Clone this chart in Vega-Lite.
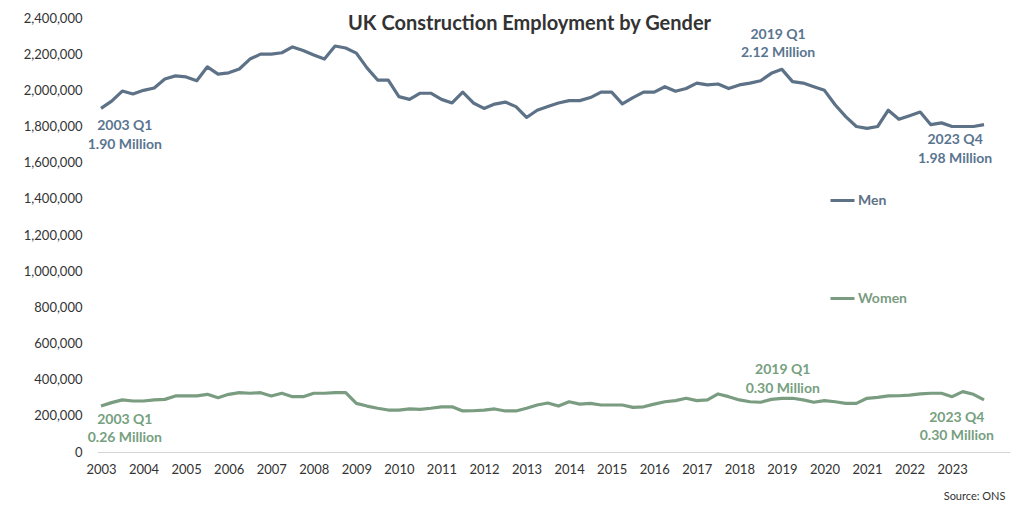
{
  "$schema": "https://vega.github.io/schema/vega-lite/v6.json",
  "width": 913,
  "height": 434,
  "autosize": "none",
  "padding": {"left": 97, "top": 18, "right": 14, "bottom": 54},
  "title": {
    "text": "UK Construction Employment by Gender",
    "fontSize": 20,
    "fontWeight": "bold",
    "color": "#333333",
    "anchor": "middle",
    "dx": -24,
    "baseline": "alphabetic",
    "offset": -38
  },
  "config": {
    "font": "Lato",
    "view": {"stroke": null}
  },
  "datasets": {
    "quarters": [
      {"t": 2003.00, "Men": 1900000, "Women": 254000},
      {"t": 2003.25, "Men": 1940000, "Women": 273000},
      {"t": 2003.50, "Men": 1996000, "Women": 288000},
      {"t": 2003.75, "Men": 1980000, "Women": 282000},
      {"t": 2004.00, "Men": 2000000, "Women": 282000},
      {"t": 2004.25, "Men": 2013000, "Women": 288000},
      {"t": 2004.50, "Men": 2063000, "Women": 291000},
      {"t": 2004.75, "Men": 2080000, "Women": 310000},
      {"t": 2005.00, "Men": 2074000, "Women": 310000},
      {"t": 2005.25, "Men": 2053000, "Women": 310000},
      {"t": 2005.50, "Men": 2130000, "Women": 319000},
      {"t": 2005.75, "Men": 2090000, "Women": 300000},
      {"t": 2006.00, "Men": 2097000, "Women": 319000},
      {"t": 2006.25, "Men": 2118000, "Women": 328000},
      {"t": 2006.50, "Men": 2173000, "Women": 325000},
      {"t": 2006.75, "Men": 2200000, "Women": 328000},
      {"t": 2007.00, "Men": 2200000, "Women": 310000},
      {"t": 2007.25, "Men": 2208000, "Women": 325000},
      {"t": 2007.50, "Men": 2240000, "Women": 306000},
      {"t": 2007.75, "Men": 2220000, "Women": 306000},
      {"t": 2008.00, "Men": 2195000, "Women": 325000},
      {"t": 2008.25, "Men": 2173000, "Women": 325000},
      {"t": 2008.50, "Men": 2245000, "Women": 328000},
      {"t": 2008.75, "Men": 2234000, "Women": 328000},
      {"t": 2009.00, "Men": 2206000, "Women": 269000},
      {"t": 2009.25, "Men": 2124000, "Women": 254000},
      {"t": 2009.50, "Men": 2057000, "Women": 242000},
      {"t": 2009.75, "Men": 2057000, "Women": 232000},
      {"t": 2010.00, "Men": 1965000, "Women": 232000},
      {"t": 2010.25, "Men": 1950000, "Women": 238000},
      {"t": 2010.50, "Men": 1984000, "Women": 236000},
      {"t": 2010.75, "Men": 1984000, "Women": 242000},
      {"t": 2011.00, "Men": 1950000, "Women": 250000},
      {"t": 2011.25, "Men": 1930000, "Women": 250000},
      {"t": 2011.50, "Men": 1990000, "Women": 227000},
      {"t": 2011.75, "Men": 1930000, "Women": 228000},
      {"t": 2012.00, "Men": 1900000, "Women": 232000},
      {"t": 2012.25, "Men": 1924000, "Women": 238000},
      {"t": 2012.50, "Men": 1935000, "Women": 227000},
      {"t": 2012.75, "Men": 1910000, "Women": 227000},
      {"t": 2013.00, "Men": 1850000, "Women": 242000},
      {"t": 2013.25, "Men": 1890000, "Women": 260000},
      {"t": 2013.50, "Men": 1910000, "Women": 271000},
      {"t": 2013.75, "Men": 1930000, "Women": 254000},
      {"t": 2014.00, "Men": 1943000, "Women": 278000},
      {"t": 2014.25, "Men": 1943000, "Women": 265000},
      {"t": 2014.50, "Men": 1960000, "Women": 269000},
      {"t": 2014.75, "Men": 1990000, "Women": 260000},
      {"t": 2015.00, "Men": 1990000, "Women": 260000},
      {"t": 2015.25, "Men": 1925000, "Women": 260000},
      {"t": 2015.50, "Men": 1960000, "Women": 247000},
      {"t": 2015.75, "Men": 1990000, "Women": 250000},
      {"t": 2016.00, "Men": 1990000, "Women": 265000},
      {"t": 2016.25, "Men": 2020000, "Women": 278000},
      {"t": 2016.50, "Men": 1995000, "Women": 284000},
      {"t": 2016.75, "Men": 2010000, "Women": 297000},
      {"t": 2017.00, "Men": 2040000, "Women": 284000},
      {"t": 2017.25, "Men": 2030000, "Women": 288000},
      {"t": 2017.50, "Men": 2035000, "Women": 321000},
      {"t": 2017.75, "Men": 2010000, "Women": 306000},
      {"t": 2018.00, "Men": 2030000, "Women": 288000},
      {"t": 2018.25, "Men": 2040000, "Women": 278000},
      {"t": 2018.50, "Men": 2053000, "Women": 275000},
      {"t": 2018.75, "Men": 2094000, "Women": 291000},
      {"t": 2019.00, "Men": 2116000, "Women": 297000},
      {"t": 2019.25, "Men": 2048000, "Women": 297000},
      {"t": 2019.50, "Men": 2040000, "Women": 288000},
      {"t": 2019.75, "Men": 2020000, "Women": 275000},
      {"t": 2020.00, "Men": 2000000, "Women": 284000},
      {"t": 2020.25, "Men": 1920000, "Women": 278000},
      {"t": 2020.50, "Men": 1855000, "Women": 269000},
      {"t": 2020.75, "Men": 1800000, "Women": 269000},
      {"t": 2021.00, "Men": 1790000, "Women": 297000},
      {"t": 2021.25, "Men": 1800000, "Women": 302000},
      {"t": 2021.50, "Men": 1890000, "Women": 310000},
      {"t": 2021.75, "Men": 1840000, "Women": 311000},
      {"t": 2022.00, "Men": 1860000, "Women": 315000},
      {"t": 2022.25, "Men": 1880000, "Women": 321000},
      {"t": 2022.50, "Men": 1810000, "Women": 325000},
      {"t": 2022.75, "Men": 1820000, "Women": 325000},
      {"t": 2023.00, "Men": 1800000, "Women": 306000},
      {"t": 2023.25, "Men": 1800000, "Women": 334000},
      {"t": 2023.50, "Men": 1800000, "Women": 319000},
      {"t": 2023.75, "Men": 1810000, "Women": 288000}
    ],
    "notes": [
      {"t": 2003.56, "employed": 1841000, "g": "Men", "label": ["2003 Q1", "1.90 Million"]},
      {"t": 2018.91, "employed": 2345000, "g": "Men", "label": ["2019 Q1", "2.12 Million"]},
      {"t": 2023.07, "employed": 1764000, "g": "Men", "label": ["2023 Q4", "1.98 Million"]},
      {"t": 2003.56, "employed": 216000, "g": "Women", "label": ["2003 Q1", "0.26 Million"]},
      {"t": 2019.02, "employed": 492000, "g": "Women", "label": ["2019 Q1", "0.30 Million"]},
      {"t": 2023.11, "employed": 227000, "g": "Women", "label": ["2023 Q4", "0.30 Million"]}
    ]
  },
  "encoding": {
    "x": {
      "field": "t",
      "type": "quantitative",
      "scale": {"domain": [2002.906, 2024.36], "nice": false, "zero": false},
      "axis": {
        "values": [2003, 2004, 2005, 2006, 2007, 2008, 2009, 2010, 2011, 2012, 2013, 2014, 2015, 2016, 2017, 2018, 2019, 2020, 2021, 2022, 2023],
        "format": "d",
        "grid": false,
        "ticks": false,
        "labelFontSize": 13,
        "labelColor": "#333333",
        "labelPadding": 11,
        "labelFlush": false,
        "domainColor": "#d4d4d4",
        "title": "Source: ONS",
        "titleFontSize": 11,
        "titleFontWeight": "normal",
        "titleColor": "#333333",
        "titleAlign": "right",
        "titleAnchor": "end",
        "titleBaseline": "alphabetic",
        "titleX": 908,
        "titleY": 47
      }
    },
    "y": {
      "field": "employed",
      "type": "quantitative",
      "scale": {"domain": [0, 2400000], "nice": false},
      "axis": {
        "values": [0, 200000, 400000, 600000, 800000, 1000000, 1200000, 1400000, 1600000, 1800000, 2000000, 2200000, 2400000],
        "format": ",.0f",
        "labelOverlap": false,
        "grid": false,
        "ticks": false,
        "domain": false,
        "labelFontSize": 13,
        "labelColor": "#333333",
        "labelPadding": 15,
        "title": null
      }
    }
  },
  "layer": [
    {
      "data": {"name": "quarters"},
      "transform": [{"fold": ["Men", "Women"], "as": ["gender", "employed"]}],
      "mark": {"type": "line", "strokeWidth": 3.2, "strokeJoin": "round"},
      "encoding": {
        "color": {
          "field": "gender",
          "type": "nominal",
          "scale": {"domain": ["Men", "Women"], "range": ["#5d7287", "#7a9c81"]},
          "legend": {
            "title": null,
            "orient": "none",
            "legendX": 732,
            "legendY": 169,
            "direction": "vertical",
            "symbolType": "stroke",
            "symbolStrokeWidth": 3,
            "symbolSize": 576,
            "labelFontSize": 14,
            "labelFontWeight": "bold",
            "labelOffset": 2,
            "rowPadding": 77,
            "labelColor": {"expr": "datum.label == 'Men' ? '#5d7287' : '#7a9c81'"}
          }
        }
      }
    },
    {
      "data": {"name": "notes"},
      "transform": [{"filter": "datum.g == 'Men'"}],
      "mark": {"type": "text", "align": "center", "baseline": "top", "fontSize": 14, "fontWeight": "bold", "lineHeight": 18.5, "color": "#5a7590"},
      "encoding": {
        "text": {"field": "label"}
      }
    },
    {
      "data": {"name": "notes"},
      "transform": [{"filter": "datum.g == 'Women'"}],
      "mark": {"type": "text", "align": "center", "baseline": "top", "fontSize": 14, "fontWeight": "bold", "lineHeight": 18.5, "color": "#76a080"},
      "encoding": {
        "text": {"field": "label"}
      }
    }
  ]
}
